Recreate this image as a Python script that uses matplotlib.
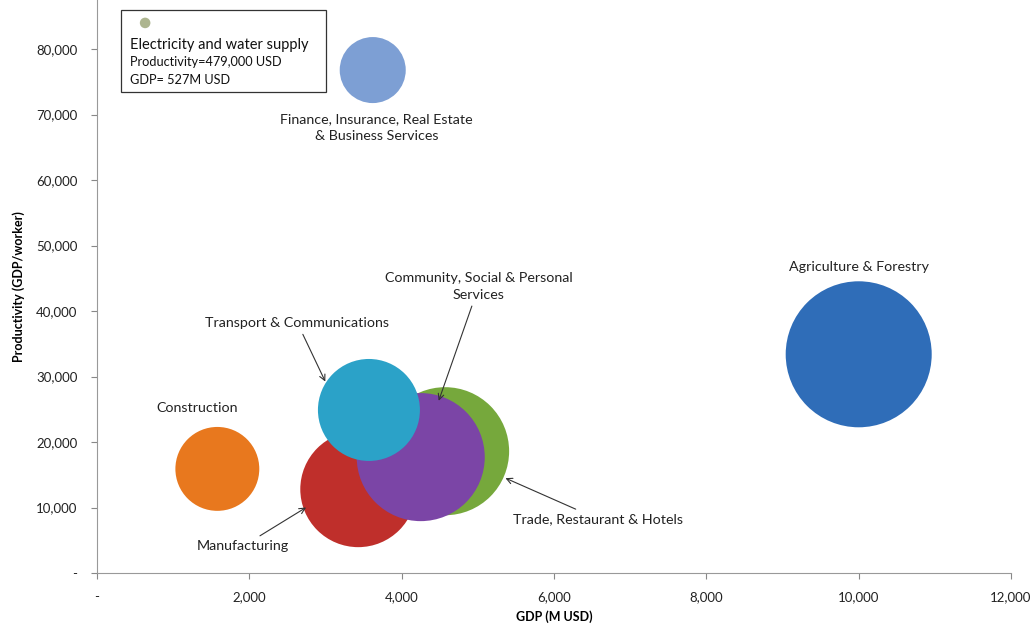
import matplotlib.pyplot as plt
from matplotlib.patches import Rectangle
from matplotlib.ticker import FuncFormatter

plt.rcParams['font.family'] = ['Lato', 'DejaVu Sans']

# Sectors (GDP in M USD, productivity in USD/worker, bubble size relative)
sectors = ['Agriculture & Forestry', 'Finance', 'Construction', 'Manufacturing',
           'Trade', 'Community', 'Transport', 'Electricity']
gdp = [10000, 3620, 1580, 3430, 4570, 4250, 3570, 632]
productivity = [33400, 76800, 15900, 12800, 18600, 17700, 24900, 84000]
bubble = [5330, 1090, 1760, 3360, 4100, 4100, 2600, 28]
colors = ['#2F6DB8', '#7D9FD4', '#E8781E', '#BF2F2B', '#76A83C', '#7B45A6',
          '#2BA2C8', '#ADB58F']

fig = plt.figure(figsize=(10.34, 6.24), dpi=100)
ax = fig.add_axes([0.0938, 0.0817, 0.884, 0.9183])

# radius in px -> marker area in points^2
sizes = [(2 * (b ** 0.5) * 0.72) ** 2 for b in bubble]
ax.scatter(gdp, productivity, s=sizes, c=colors, edgecolors='none', zorder=3,
           clip_on=False)

ax.set_xlim(0, 12000)
ax.set_ylim(0, 87500)
ax.set_xticks(range(0, 12001, 2000))
ax.set_yticks(range(0, 80001, 10000))
fmt = FuncFormatter(lambda v, p: '-' if v == 0 else f'{int(v):,}')
ax.xaxis.set_major_formatter(fmt)
ax.yaxis.set_major_formatter(fmt)
ax.tick_params(length=4, color='#888888', labelsize=9.5, labelcolor='#222222')
ax.tick_params(axis='x', pad=9)
ax.tick_params(axis='y', pad=10)
for s in ['top', 'right']:
    ax.spines[s].set_visible(False)
for s in ['left', 'bottom']:
    ax.spines[s].set_color('#999999')

ax.set_xlabel('GDP (M USD)', fontsize=9, fontweight='bold', labelpad=5)
ax.set_ylabel('Productivity (GDP/worker)', fontsize=9, fontweight='bold', labelpad=8)

lab = dict(fontsize=10.3, color='#222222', ha='center', va='center', zorder=5,
           linespacing=1.5)
arw = dict(arrowstyle='->', color='#333333', lw=0.8)
ax.text(3670, 68000, 'Finance, Insurance, Real Estate\n& Business Services', **lab)
ax.text(10010, 46700, 'Agriculture & Forestry', **lab)
ax.text(1316, 25200, 'Construction', **lab)
ax.annotate('Community, Social & Personal\nServices', xy=(4474, 25900),
            xytext=(5013, 43800), arrowprops=arw, **lab)
ax.annotate('Transport & Communications', xy=(3013, 28850),
            xytext=(2632, 38170), arrowprops=arw, **lab)
ax.annotate('Manufacturing', xy=(2776, 10230), xytext=(1921, 4120),
            arrowprops=arw, **lab)
ax.annotate('Trade, Restaurant & Hotels', xy=(5329, 14660), xytext=(6579, 8240),
            arrowprops=arw, **lab)

# info box for the off-scale sector
ax.add_patch(Rectangle((316, 73430), 2684, 12520, fill=False, lw=0.9,
                       edgecolor='#333333', zorder=4))
ax.text(434, 80700, 'Electricity and water supply', fontsize=10.5, va='center',
        color='#111111')
ax.text(434, 78100, 'Productivity=479,000 USD', fontsize=9.2, va='center',
        color='#111111')
ax.text(434, 75300, 'GDP= 527M USD', fontsize=9.2, va='center', color='#111111')

fig.savefig('out.png', dpi=100)
